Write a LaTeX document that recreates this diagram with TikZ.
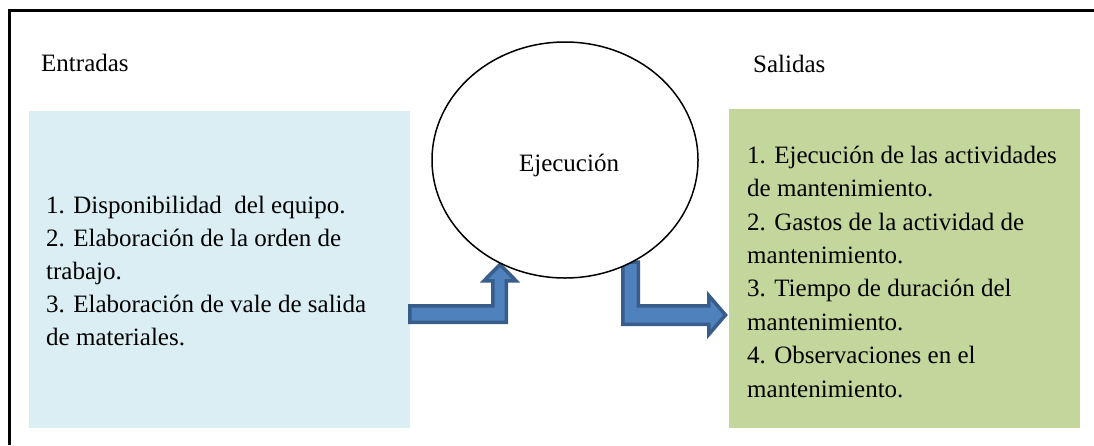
\documentclass[tikz,border=0pt]{standalone}
\usepackage{fontspec}
\setmainfont{Liberation Serif}
\usetikzlibrary{shapes.geometric}
\definecolor{inbox}{HTML}{DAEEF3}
\definecolor{outbox}{HTML}{C3D69B}
\definecolor{arrfill}{HTML}{4F81BD}
\definecolor{arrline}{HTML}{385D8A}
\tikzset{
  panel/.style={inner sep=0, outer sep=0},
  bigtext/.style={font=\fontsize{25}{33}\selectfont, inner sep=0, align=left},
  bigtextr/.style={font=\fontsize{25}{33.4}\selectfont, inner sep=0, align=left},
  flowarrow/.style={fill=arrfill, draw=arrline, line width=3.5, line join=miter},
  frameline/.style={line width=2.5, draw=black},
}
\begin{document}
\begin{tikzpicture}[x=1pt, y=-1pt]
\useasboundingbox (0,0) rectangle (1094,445);
% frame
\coordinate (ftl) at (9.5,10.5);
\coordinate (ftr) at (1094,10.5);
\coordinate (fbl) at (9.5,445);
\draw[frameline] (ftr) -- (ftl) -- (fbl);
% boxes
\node[panel, fill=inbox, minimum width=381, minimum height=316.5] (inp) at (219.5,269.25) {};
\node[panel, fill=outbox, minimum width=351, minimum height=319] (outp) at (904.5,268.5) {};
% labels
\node[bigtext, anchor=base west] (entr) at (41,71) {Entradas};
\node[bigtext, anchor=base west] (sal) at (753,72) {Salidas};
% arrows
\path[flowarrow] (409.75,305.75) -- (492.75,305.75) -- (492.75,280.75) -- (484,280.75)
  -- (500,264.5) -- (516,280.75) -- (506.25,280.75) -- (506.25,322.25) -- (409.75,322.25) -- cycle;
\path[flowarrow] (622.75,262) -- (638.25,262) -- (638.25,305.75) -- (708.75,305.75)
  -- (708.75,295.5) -- (725.5,315) -- (708.75,334.5) -- (708.75,324.25) -- (622.75,324.25) -- cycle;
% ellipse
\node[ellipse, draw, fill=white, line width=1.5, minimum width=266, minimum height=236, inner sep=0] (ejec) at (565,160) {};
\node[bigtext, anchor=base] (ejt) at (569,171) {Ejecución};
% texts (base anchor = baseline of the last line)
\node[bigtext, anchor=base west] (intext) at (46,345) {1. Disponibilidad \ del equipo.\\2. Elaboración de la orden de\\trabajo.\\3. Elaboración de vale de salida\\de materiales.};
\node[bigtextr, anchor=base west] (outtext) at (747,397) {1. Ejecución de las actividades\\de mantenimiento.\\2. Gastos de la actividad de\\mantenimiento.\\3. Tiempo de duración del\\mantenimiento.\\4. Observaciones en el\\mantenimiento.};
\end{tikzpicture}
\end{document}
